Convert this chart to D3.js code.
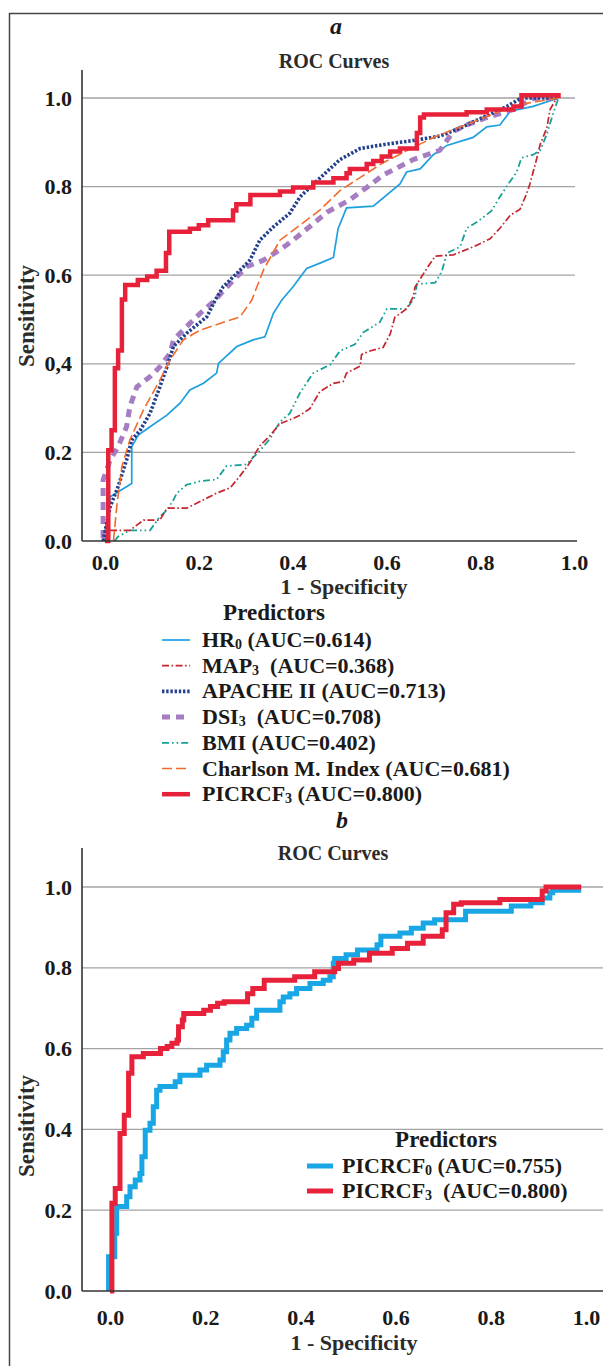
<!DOCTYPE html>
<html><head><meta charset="utf-8">
<script src="https://cdn.jsdelivr.net/npm/d3@7/dist/d3.min.js"></script>
<style>
html,body{margin:0;padding:0;background:#fff;overflow:hidden}
svg{display:block}
text{white-space:pre}
</style></head>
<body><svg id="chart" width="603" height="1366"></svg>
<script>
// ---------------- data ----------------
const xTickValues = [0, 0.2, 0.4, 0.6, 0.8, 1.0];
const xTickLabels = ["0.0","0.2","0.4","0.6","0.8","1.0"];
const yTickValues = [0, 0.2, 0.4, 0.6, 0.8, 1.0];
const yTickLabelsA = ["0.0","0.2","0,4","0.6","0.8","1.0"];
const yTickLabelsB = ["0.0","0.2","0.4","0.6","0.8","1.0"];

const legendNamesA = ["HR","MAP","APACHE II","DSI","BMI","Charlson M. Index","PICRCF"];
const legendSubsA  = ["0","3","","3","","","3"];
const legendGapsA  = [" ","  "," ","  "," "," "," "];
const aucA         = ["0.614","0.368","0.713","0.708","0.402","0.681","0.800"];

const legendNamesB = ["PICRCF","PICRCF"];
const legendSubsB  = ["0","3"];
const legendGapsB  = [" ","  "];
const aucB         = ["0.755","0.800"];

// panel a
const hr0Fpr = [-0.004,0.004,0.011,0.057,0.057,0.071,0.096,0.132,0.160,0.181,0.21,0.238,0.242,0.281,0.316,0.341,0.359,0.377,0.401,0.43,0.465,0.487,0.497,0.515,0.572,0.629,0.643,0.672,0.70,0.729,0.785,0.814,0.842,0.864,0.913,0.967];
const hr0Tpr = [0,0.047,0.1,0.13,0.213,0.239,0.258,0.284,0.311,0.341,0.356,0.379,0.401,0.439,0.454,0.461,0.514,0.544,0.574,0.615,0.630,0.640,0.705,0.752,0.756,0.806,0.833,0.840,0.872,0.893,0.911,0.935,0.939,0.970,0.981,1.0];

const map3Fpr = [0.0,0.005,0.053,0.082,0.117,0.132,0.174,0.21,0.238,0.267,0.288,0.309,0.330,0.352,0.373,0.40,0.416,0.437,0.458,0.487,0.508,0.515,0.544,0.547,0.565,0.593,0.608,0.618,0.643,0.657,0.661,0.686,0.704,0.743,0.785,0.821,0.842,0.864,0.885,0.899,0.906,0.92,0.928,0.942,0.949,0.963];
const map3Tpr = [0.0,0.024,0.024,0.047,0.047,0.074,0.074,0.093,0.108,0.120,0.147,0.177,0.215,0.238,0.265,0.276,0.284,0.299,0.337,0.356,0.360,0.379,0.395,0.421,0.429,0.437,0.467,0.505,0.524,0.551,0.573,0.615,0.643,0.646,0.664,0.682,0.706,0.735,0.749,0.784,0.806,0.861,0.896,0.932,0.974,1.0];

const apacheFpr = [-0.004,0.011,0.028,0.046,0.057,0.075,0.096,0.117,0.132,0.146,0.174,0.217,0.235,0.252,0.281,0.309,0.330,0.359,0.394,0.416,0.458,0.501,0.544,0.601,0.657,0.714,0.757,0.814,0.857,0.888,0.967];
const apacheTpr = [0,0.077,0.123,0.183,0.228,0.25,0.288,0.348,0.393,0.439,0.469,0.506,0.544,0.574,0.604,0.634,0.679,0.709,0.74,0.777,0.819,0.861,0.886,0.896,0.904,0.914,0.932,0.960,0.981,1.0,1.0];

const dsi3Fpr = [-0.004,-0.004,0.011,0.028,0.046,0.053,0.068,0.096,0.117,0.139,0.146,0.174,0.203,0.231,0.274,0.302,0.338,0.373,0.401,0.416,0.437,0.473,0.522,0.558,0.593,0.657,0.714,0.743,0.771,0.814,0.871,0.913,0.967];
const dsi3Tpr = [0.007,0.138,0.183,0.213,0.258,0.303,0.348,0.371,0.393,0.424,0.454,0.484,0.514,0.54,0.589,0.619,0.634,0.657,0.679,0.692,0.710,0.742,0.770,0.798,0.826,0.861,0.882,0.925,0.939,0.956,0.974,0.999,1.0];

const bmiFpr = [0.02,0.028,0.053,0.096,0.117,0.132,0.146,0.153,0.174,0.203,0.238,0.259,0.302,0.330,0.352,0.373,0.394,0.416,0.444,0.48,0.501,0.533,0.551,0.586,0.601,0.643,0.661,0.665,0.704,0.718,0.729,0.757,0.771,0.793,0.824,0.842,0.86,0.878,0.888,0.913,0.928,0.942,0.956,0.967];
const bmiTpr = [0.0,0.01,0.024,0.024,0.055,0.070,0.093,0.108,0.127,0.135,0.139,0.169,0.173,0.204,0.231,0.269,0.288,0.335,0.379,0.398,0.429,0.444,0.471,0.494,0.524,0.524,0.551,0.580,0.583,0.608,0.650,0.664,0.706,0.720,0.745,0.777,0.806,0.833,0.865,0.872,0.882,0.918,0.967,1.0];

const charlsonFpr = [0.018,0.025,0.036,0.053,0.082,0.117,0.139,0.167,0.203,0.245,0.288,0.313,0.338,0.373,0.416,0.458,0.501,0.593,0.70,0.785,0.842,0.899,0.967];
const charlsonTpr = [0.0,0.077,0.168,0.228,0.296,0.363,0.409,0.454,0.476,0.491,0.506,0.544,0.612,0.679,0.713,0.747,0.791,0.854,0.911,0.946,0.970,0.988,1.0];

// step curves (x where the jump happens, new sensitivity)
const picrcf3aFpr = [0,0.007,0.014,0.021,0.028,0.036,0.043,0.07,0.09,0.11,0.13,0.137,0.181,0.2,0.22,0.273,0.28,0.31,0.373,0.401,0.444,0.487,0.515,0.522,0.558,0.572,0.59,0.608,0.629,0.665,0.672,0.68,0.771,0.814,0.871,0.888,0.967];
const picrcf3aTpr = [0,0.205,0.25,0.39,0.43,0.545,0.578,0.589,0.597,0.61,0.65,0.698,0.705,0.713,0.724,0.746,0.76,0.781,0.789,0.798,0.809,0.819,0.830,0.840,0.851,0.858,0.868,0.879,0.886,0.921,0.956,0.963,0.968,0.974,0.981,1.006,1.0];

// panel b
const picrcf0Fpr = [-0.003,-0.003,0.010,0.014,0.035,0.042,0.053,0.063,0.067,0.074,0.084,0.091,0.098,0.105,0.137,0.147,0.189,0.203,0.231,0.238,0.245,0.252,0.266,0.287,0.298,0.308,0.357,0.364,0.378,0.392,0.420,0.448,0.462,0.469,0.472,0.496,0.520,0.561,0.569,0.609,0.633,0.658,0.682,0.747,0.843,0.884,0.908,0.924,0.93,0.99];
const picrcf0Tpr = [0,0.085,0.143,0.209,0.233,0.258,0.275,0.291,0.332,0.398,0.415,0.456,0.497,0.506,0.518,0.534,0.547,0.559,0.572,0.592,0.621,0.638,0.650,0.658,0.675,0.695,0.716,0.728,0.736,0.749,0.761,0.769,0.778,0.811,0.823,0.832,0.844,0.857,0.878,0.886,0.898,0.911,0.919,0.940,0.953,0.961,0.973,0.986,0.992,0.992];

const picrcf3bFpr = [0,0.004,0.011,0.021,0.030,0.039,0.046,0.070,0.106,0.12,0.130,0.141,0.144,0.152,0.155,0.197,0.211,0.226,0.240,0.289,0.30,0.324,0.388,0.430,0.472,0.480,0.512,0.545,0.593,0.625,0.658,0.698,0.706,0.722,0.738,0.819,0.908,0.916,0.99];
const picrcf3bTpr = [0,0.217,0.254,0.390,0.435,0.539,0.580,0.588,0.600,0.605,0.613,0.621,0.654,0.671,0.687,0.695,0.704,0.712,0.716,0.736,0.749,0.769,0.778,0.790,0.798,0.811,0.819,0.836,0.848,0.861,0.878,0.894,0.936,0.957,0.961,0.969,0.990,1.0,1.0];

// ---------------- styles ----------------
const zip = (a, b) => a.map((v, i) => [v, b[i]]);
const serif = "'Liberation Serif', 'Times New Roman', serif";
const RED = "#e8213a";

const seriesA = [
  {fpr: bmiFpr, tpr: bmiTpr, color: "#17a097", width: 1.8, dash: "7,3,1.6,3,1.6,3", step: false},
  {fpr: map3Fpr, tpr: map3Tpr, color: "#c4262e", width: 1.7, dash: "7,2.5,1.6,2.5", step: false},
  {fpr: hr0Fpr, tpr: hr0Tpr, color: "#1e9fdf", width: 1.7, dash: null, step: false},
  {fpr: dsi3Fpr, tpr: dsi3Tpr, color: "#a67cc2", width: 5, dash: "8,6", step: false},
  {fpr: apacheFpr, tpr: apacheTpr, color: "#22408e", width: 3.6, dash: "2.4,1.8", step: false},
  {fpr: charlsonFpr, tpr: charlsonTpr, color: "#f26b2b", width: 1.6, dash: "10,4", step: false},
  {fpr: picrcf3aFpr, tpr: picrcf3aTpr, color: RED, width: 4.5, dash: null, step: true}
];
const legendStyleA = [2, 1, 4, 3, 0, 5, 6];

const seriesB = [
  {fpr: picrcf0Fpr, tpr: picrcf0Tpr, color: "#19a6e4", width: 5, dash: null, step: true},
  {fpr: picrcf3bFpr, tpr: picrcf3bTpr, color: RED, width: 5, dash: null, step: true}
];

const svg = d3.select("#chart");

// outer frame
svg.append("path").attr("d", "M9.5,1366 V13.5 H603")
  .attr("fill", "none").attr("stroke", "#444").attr("stroke-width", 1.5);

function panel(cfg) {
  const x = d3.scaleLinear().domain([0, 1]).range([cfg.x0, cfg.x1]);
  const y = d3.scaleLinear().domain([0, 1]).range([cfg.y0, cfg.y1]);
  const g = svg.append("g");

  g.append("text").attr("x", cfg.letterX).attr("y", cfg.letterY)
    .attr("text-anchor", "middle").attr("font-family", serif)
    .attr("font-style", "italic").attr("font-weight", "bold").attr("font-size", 24)
    .attr("fill", "#1a1a1a").text(cfg.letter);
  g.append("text").attr("x", cfg.titleX).attr("y", cfg.titleY)
    .attr("text-anchor", "middle").attr("font-family", serif)
    .attr("font-weight", "bold").attr("font-size", 20).attr("fill", "#2b2b2b")
    .text("ROC Curves");

  g.selectAll("line.grid").data(yTickValues.filter(v => v > 0)).join("line")
    .attr("x1", cfg.axisX).attr("x2", cfg.gridRight)
    .attr("y1", d => y(d)).attr("y2", d => y(d))
    .attr("stroke", "#a3a3a3").attr("stroke-width", 1.3);

  cfg.series.forEach(s => {
    const line = d3.line().x(d => x(d[0])).y(d => y(d[1]))
      .curve(s.step ? d3.curveStepAfter : d3.curveLinear);
    g.append("path").datum(zip(s.fpr, s.tpr))
      .attr("d", line).attr("fill", "none")
      .attr("stroke", s.color).attr("stroke-width", s.width)
      .attr("stroke-dasharray", s.dash);
  });

  g.append("line").attr("x1", cfg.axisX).attr("x2", cfg.axisX)
    .attr("y1", cfg.axisTop).attr("y2", y(0))
    .attr("stroke", "#333").attr("stroke-width", 1.6);
  g.append("line").attr("x1", cfg.axisX).attr("x2", cfg.axisRight)
    .attr("y1", y(0)).attr("y2", y(0))
    .attr("stroke", "#333").attr("stroke-width", 1.6);

  const ya = g.append("g").attr("transform", `translate(${cfg.axisX},0)`)
    .call(d3.axisLeft(y).tickValues(yTickValues).tickSize(0).tickPadding(10)
      .tickFormat((d, i) => cfg.yLabels[i]));
  ya.select(".domain").remove();
  ya.selectAll("text").attr("font-family", serif).attr("font-weight", "bold")
    .attr("font-size", 22).attr("fill", "#1a1a1a");

  const xa = g.append("g").attr("transform", `translate(0,${y(0)})`)
    .call(d3.axisBottom(x).tickValues(xTickValues).tickSize(0).tickPadding(cfg.xPad)
      .tickFormat((d, i) => xTickLabels[i]));
  xa.select(".domain").remove();
  xa.selectAll("text").attr("font-family", serif).attr("font-weight", "bold")
    .attr("font-size", 22).attr("fill", "#1a1a1a");

  g.append("text").attr("transform", `translate(${cfg.sensX},${cfg.sensY}) rotate(-90)`)
    .attr("text-anchor", "middle").attr("font-family", serif)
    .attr("font-weight", "bold").attr("font-size", 23).attr("fill", "#2b2b2b")
    .text("Sensitivity");
  g.append("text").attr("x", cfg.specX).attr("y", cfg.specY)
    .attr("text-anchor", "middle").attr("font-family", serif)
    .attr("font-weight", "bold").attr("font-size", 22).attr("fill", "#2b2b2b")
    .text("1 - Specificity");

  const L = cfg.legend;
  g.append("text").attr("x", L.headX).attr("y", L.headY)
    .attr("text-anchor", "middle").attr("font-family", serif)
    .attr("font-weight", "bold").attr("font-size", 23).attr("fill", "#1a1a1a")
    .text("Predictors");
  L.names.forEach((nm, i) => {
    const s = cfg.series[L.styleIdx[i]];
    const cy = L.rowY0 + i * L.rowStep;
    g.append("line").attr("x1", L.sx0).attr("x2", L.sx1).attr("y1", cy).attr("y2", cy)
      .attr("stroke", s.color).attr("stroke-width", L.sw ? L.sw : s.width)
      .attr("stroke-dasharray", s.dash);
    const t = g.append("text").attr("x", L.tx).attr("y", cy + 7)
      .attr("font-family", serif).attr("font-weight", "bold")
      .attr("font-size", 22).attr("fill", "#1a1a1a");
    t.append("tspan").text(nm);
    if (L.subs[i]) {
      t.append("tspan").attr("font-size", 14).attr("dy", 2).text(L.subs[i]);
      t.append("tspan").attr("dy", -2).text(L.gaps[i] + "(AUC=" + L.auc[i] + ")");
    } else {
      t.append("tspan").text(L.gaps[i] + "(AUC=" + L.auc[i] + ")");
    }
  });
}

panel({
  letter: "a", letterX: 336, letterY: 34, titleX: 334, titleY: 68,
  x0: 105, x1: 574, y0: 541, y1: 98,
  axisX: 82, axisTop: 70, axisRight: 577, gridRight: 575,
  yLabels: yTickLabelsA, xPad: 13,
  sensX: 34, sensY: 316, specX: 344, specY: 594,
  series: seriesA,
  legend: {headX: 274, headY: 620, names: legendNamesA, subs: legendSubsA, gaps: legendGapsA,
    auc: aucA, styleIdx: legendStyleA, rowY0: 640, rowStep: 25.7, sx0: 162, sx1: 190, tx: 202}
});

panel({
  letter: "b", letterX: 342, letterY: 828, titleX: 333, titleY: 860,
  x0: 110, x1: 586, y0: 1291, y1: 887,
  axisX: 82, axisTop: 848, axisRight: 603, gridRight: 603,
  yLabels: yTickLabelsB, xPad: 18,
  sensX: 34, sensY: 1126, specX: 354, specY: 1350,
  series: seriesB,
  legend: {headX: 446, headY: 1147, names: legendNamesB, subs: legendSubsB, gaps: legendGapsB,
    auc: aucB, styleIdx: [0, 1], rowY0: 1166, rowStep: 25, sx0: 307, sx1: 333, tx: 342, sw: 5}
});
</script>
</body></html>
